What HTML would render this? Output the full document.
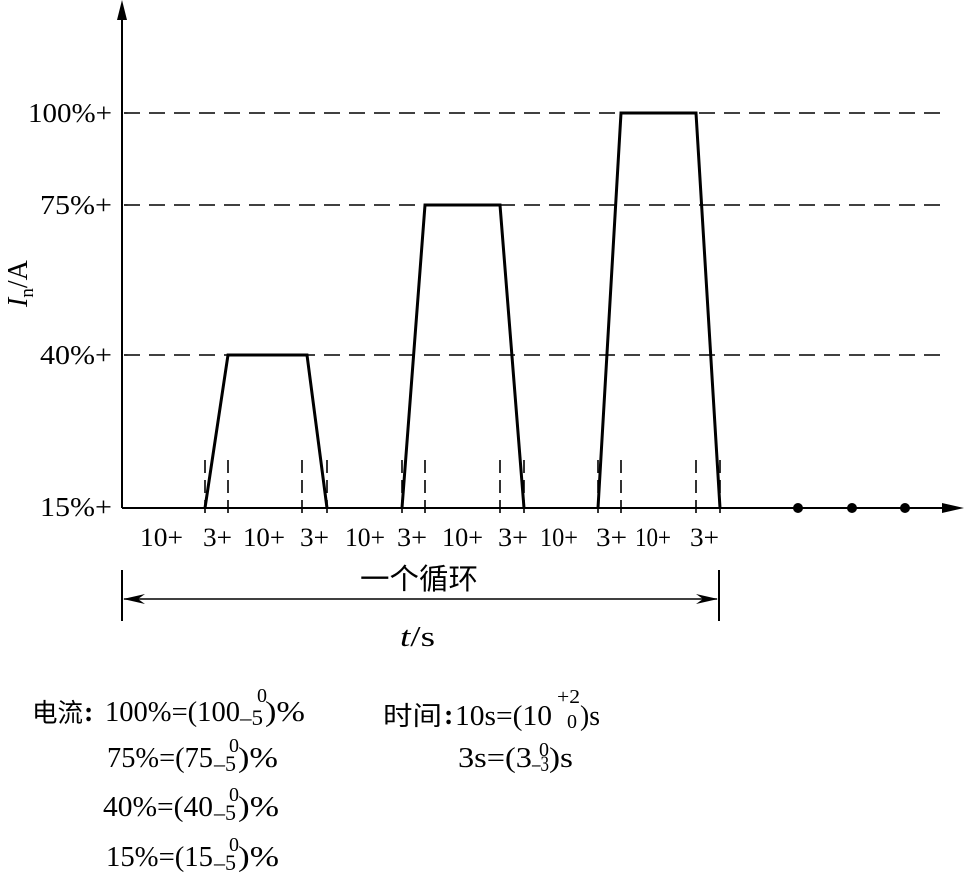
<!DOCTYPE html>
<html><head><meta charset="utf-8"><style>
html,body{margin:0;padding:0;background:#fff;}
svg{display:block;}
text{font-family:"Liberation Serif","Noto Serif CJK SC",serif;fill:#000;}
.cj{font-family:"Liberation Serif","Noto Sans CJK SC",sans-serif;}
</style></head><body>
<svg width="965" height="879" viewBox="0 0 965 879" xmlns="http://www.w3.org/2000/svg">
<line x1="122" y1="4" x2="122" y2="508" stroke="#000" stroke-width="2"/>
<polygon points="122,0 117,20 127,20" fill="#000"/>
<line x1="122" y1="508" x2="950" y2="508" stroke="#000" stroke-width="2"/>
<polygon points="964,508 942,503 942,513" fill="#000"/>
<g stroke="#000" stroke-width="1.6" stroke-dasharray="16,9">
<line x1="124" y1="113" x2="948" y2="113"/>
<line x1="124" y1="205" x2="948" y2="205"/>
<line x1="124" y1="355" x2="948" y2="355"/>
</g>
<g stroke="#000" stroke-width="1.6" stroke-dasharray="13,7">
<line x1="205" y1="460" x2="205" y2="520"/><line x1="228" y1="460" x2="228" y2="520"/>
<line x1="302" y1="460" x2="302" y2="520"/><line x1="327" y1="460" x2="327" y2="520"/>
<line x1="402" y1="460" x2="402" y2="520"/><line x1="425" y1="460" x2="425" y2="520"/>
<line x1="500" y1="460" x2="500" y2="520"/><line x1="524" y1="460" x2="524" y2="520"/>
<line x1="598" y1="460" x2="598" y2="520"/><line x1="621" y1="460" x2="621" y2="520"/>
<line x1="696" y1="460" x2="696" y2="520"/><line x1="720" y1="460" x2="720" y2="520"/>
</g>
<g fill="none" stroke="#000" stroke-width="3" stroke-linejoin="miter">
<polyline points="205,508 228,355 307,355 327,508"/>
<polyline points="402,508 425,205 500,205 524,508"/>
<polyline points="598,508 621,113 696,113 720,508"/>
</g>
<circle cx="798" cy="508" r="5"/><circle cx="852" cy="508" r="5"/><circle cx="905" cy="508" r="5"/>
<g font-size="27">
<text x="28" y="122" textLength="84" lengthAdjust="spacingAndGlyphs">100%+</text>
<text x="40" y="214" textLength="72" lengthAdjust="spacingAndGlyphs">75%+</text>
<text x="40" y="364" textLength="72" lengthAdjust="spacingAndGlyphs">40%+</text>
<text x="40" y="516" textLength="72" lengthAdjust="spacingAndGlyphs">15%+</text>
</g>
<text transform="translate(27,307) rotate(-90)" font-size="28"><tspan font-style="italic">I</tspan><tspan font-size="19" dy="6">n</tspan><tspan dy="-6">/A</tspan></text>
<g font-size="26">
<text x="140" y="546" textLength="43" lengthAdjust="spacingAndGlyphs">10+</text><text x="203" y="546" textLength="29" lengthAdjust="spacingAndGlyphs">3+</text>
<text x="243" y="546" textLength="42" lengthAdjust="spacingAndGlyphs">10+</text><text x="300" y="546" textLength="29" lengthAdjust="spacingAndGlyphs">3+</text>
<text x="345" y="546" textLength="40" lengthAdjust="spacingAndGlyphs">10+</text><text x="397" y="546" textLength="30" lengthAdjust="spacingAndGlyphs">3+</text>
<text x="442" y="546" textLength="41" lengthAdjust="spacingAndGlyphs">10+</text><text x="498" y="546" textLength="30" lengthAdjust="spacingAndGlyphs">3+</text>
<text x="540" y="546" textLength="38" lengthAdjust="spacingAndGlyphs">10+</text><text x="596" y="546" textLength="31" lengthAdjust="spacingAndGlyphs">3+</text>
<text x="635" y="546" textLength="36" lengthAdjust="spacingAndGlyphs">10+</text><text x="690" y="546" textLength="29" lengthAdjust="spacingAndGlyphs">3+</text>
</g>
<line x1="122" y1="570" x2="122" y2="621" stroke="#000" stroke-width="2"/>
<line x1="719" y1="570" x2="719" y2="621" stroke="#000" stroke-width="2"/>
<line x1="124" y1="599" x2="717" y2="599" stroke="#000" stroke-width="1.6"/>
<polygon points="123,599 145,594 138,599 145,604" fill="#000"/>
<polygon points="718,599 696,594 703,599 696,604" fill="#000"/>
<text class="cj" x="360" y="589" font-size="29" textLength="118" lengthAdjust="spacingAndGlyphs">一个循环</text>
<text x="400" y="646" font-size="28" textLength="35" lengthAdjust="spacingAndGlyphs"><tspan font-style="italic">t</tspan>/s</text>

<g font-size="28">
<text class="cj" x="32" y="722" textLength="51" lengthAdjust="spacingAndGlyphs" font-size="26">电流</text><text x="84" y="721" font-weight="bold">:</text>
<text x="105" y="721" textLength="135" lengthAdjust="spacingAndGlyphs">100%=(100</text>
<text x="240" y="725" font-size="22" textLength="23" lengthAdjust="spacingAndGlyphs">–5</text>
<text x="257" y="702" font-size="20">0</text>
<text x="265" y="721" textLength="40" lengthAdjust="spacingAndGlyphs">)%</text>

<text x="107" y="767" textLength="106" lengthAdjust="spacingAndGlyphs">75%=(75</text>
<text x="214" y="771" font-size="22" textLength="22" lengthAdjust="spacingAndGlyphs">–5</text>
<text x="229" y="752" font-size="20">0</text>
<text x="238" y="767" textLength="40" lengthAdjust="spacingAndGlyphs">)%</text>

<text x="103" y="816" textLength="110" lengthAdjust="spacingAndGlyphs">40%=(40</text>
<text x="214" y="820" font-size="22" textLength="22" lengthAdjust="spacingAndGlyphs">–5</text>
<text x="229" y="801" font-size="20">0</text>
<text x="238" y="816" textLength="41" lengthAdjust="spacingAndGlyphs">)%</text>

<text x="106" y="866" textLength="107" lengthAdjust="spacingAndGlyphs">15%=(15</text>
<text x="214" y="870" font-size="22" textLength="22" lengthAdjust="spacingAndGlyphs">–5</text>
<text x="229" y="851" font-size="20">0</text>
<text x="238" y="866" textLength="41" lengthAdjust="spacingAndGlyphs">)%</text>

<text class="cj" x="383" y="725" font-size="26" textLength="59" lengthAdjust="spacingAndGlyphs">时间</text><text x="444" y="724" font-weight="bold">:</text>
<text x="455" y="725" textLength="97" lengthAdjust="spacingAndGlyphs">10s=(10</text>
<text x="557" y="703" font-size="20" textLength="23" lengthAdjust="spacingAndGlyphs">+2</text>
<text x="567" y="728" font-size="20">0</text>
<text x="580" y="725" textLength="20" lengthAdjust="spacingAndGlyphs">)s</text>

<text x="458" y="767" textLength="74" lengthAdjust="spacingAndGlyphs">3s=(3</text>
<text x="532" y="771" font-size="22" textLength="17" lengthAdjust="spacingAndGlyphs">–3</text>
<text x="539" y="756" font-size="20">0</text>
<text x="549" y="767" textLength="24" lengthAdjust="spacingAndGlyphs">)s</text>
</g>
</svg>
</body></html>
